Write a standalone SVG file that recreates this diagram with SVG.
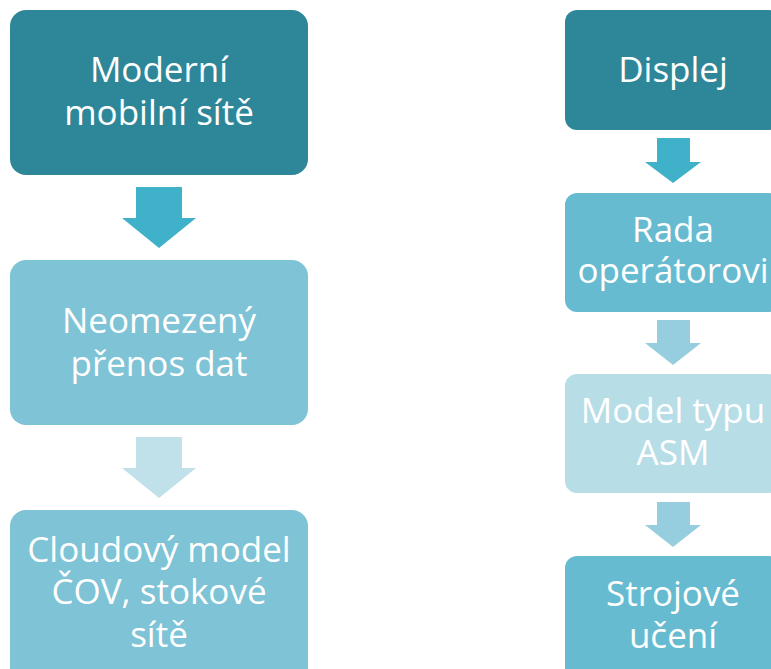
<svg xmlns="http://www.w3.org/2000/svg" width="771" height="669" viewBox="0 0 771 669">
<style>
text{font-family:"Open Sans","Noto Sans","Liberation Sans",sans-serif;font-size:35px;fill:#ffffff;text-anchor:middle}
.c1{fill:#2E8799}.c2{fill:#7FC3D6}.c3{fill:#66BBD0}.c4{fill:#B7DDE7}
.a1{fill:#3FB1C9}.a2{fill:#C0E0EA}.a3{fill:#97CEDF}
</style>
<rect width="771" height="669" fill="#ffffff"/>
<g id="connectors">
<path class="a1" d="M136,187H182V218H196L159,248L122,218H136Z"/>
<path class="a2" d="M136,437H182V468H196L159,498L122,468H136Z"/>
<path class="a1" d="M657,138H690V162H701L673,183L645,162H657Z"/>
<path class="a3" d="M657,320H690V343H701L673,365L645,343H657Z"/>
<path class="a3" d="M657,502H690V525H701L673,547L645,525H657Z"/>
</g>
<g id="n1"><rect class="c1" x="10" y="10" width="298" height="165" rx="16"/>
<text x="159" y="82">Moderní</text><text x="159" y="125">mobilní sítě</text></g>
<g id="n2"><rect class="c2" x="10" y="260" width="298" height="165" rx="16"/>
<text x="159" y="333">Neomezený</text><text x="159" y="376">přenos dat</text></g>
<g id="n3"><rect class="c2" x="10" y="510" width="298" height="175" rx="16"/>
<text x="159" y="562">Cloudový model</text><text x="159" y="604">ČOV, stokové</text><text x="159" y="647">sítě</text></g>
<g id="n4"><rect class="c1" x="565" y="10" width="216" height="120" rx="12"/>
<text x="673" y="82">Displej</text></g>
<g id="n5"><rect class="c3" x="565" y="193" width="216" height="119" rx="12"/>
<text x="673" y="242">Rada</text><text x="673" y="283">operátorovi</text></g>
<g id="n6"><rect class="c4" x="565" y="374" width="216" height="119" rx="12"/>
<text x="673" y="423">Model typu</text><text x="673" y="465">ASM</text></g>
<g id="n7"><rect class="c3" x="565" y="556" width="216" height="125" rx="12"/>
<text x="673" y="606">Strojové</text><text x="673" y="648">učení</text></g>
</svg>
